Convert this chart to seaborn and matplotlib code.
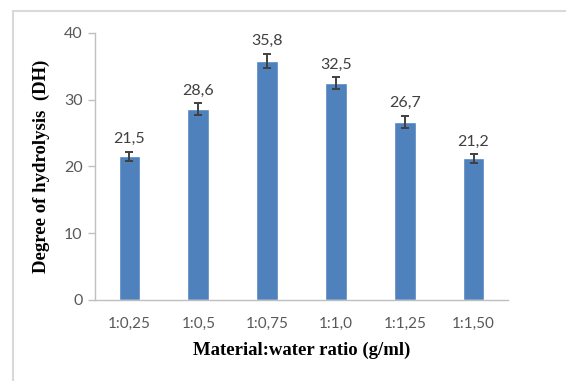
import matplotlib
matplotlib.use("Agg")
import matplotlib.pyplot as plt
import seaborn as sns
import pandas as pd
from matplotlib.lines import Line2D

categories = ["1:0,25", "1:0,5", "1:0,75", "1:1,0", "1:1,25", "1:1,50"]
values = [21.5, 28.6, 35.8, 32.5, 26.7, 21.2]
errors = [0.7, 0.9, 1.1, 0.9, 0.9, 0.65]
value_labels = ["21,5", "28,6", "35,8", "32,5", "26,7", "21,2"]
yticks = [0, 10, 20, 30, 40]

sns.set_theme(style="white")
df = pd.DataFrame({"ratio": categories, "dh": values})

fig = plt.figure(figsize=(5.66, 3.81), dpi=100)
ax = fig.add_axes([0.168, 0.2126, 0.7295, 0.7008])

sns.barplot(data=df, x="ratio", y="dh", color="#4F81BD", width=0.315,
            errorbar=None, ax=ax, saturation=1)
xs = range(len(categories))
ax.errorbar(list(xs), values, yerr=errors, fmt="none", ecolor="#404040",
            elinewidth=1.4, capsize=3, capthick=1.4, zorder=3)

for x, v, e, lab in zip(xs, values, errors, value_labels):
    ax.annotate(lab, (x, v + e), xytext=(0, 4), textcoords="offset points",
                ha="center", va="bottom", fontsize=11.5, color="#404040",
                family=["Lato", "DejaVu Sans"])

ax.set_ylim(0, 40)
ax.set_xlim(-0.5, len(categories) - 0.5)
ax.set_yticks(yticks)
ax.set_yticklabels([str(t) for t in yticks], family=["Lato", "DejaVu Sans"],
                   fontsize=11.5, color="#595959")
ax.set_xticks(list(xs))
ax.set_xticklabels(categories, family=["Lato", "DejaVu Sans"], fontsize=11,
                   color="#595959")
ax.tick_params(axis="y", length=5, width=1, color="#BFBFBF", left=True, pad=4)
ax.tick_params(axis="x", length=0, pad=12)

for s in ["top", "right"]:
    ax.spines[s].set_visible(False)
for s in ["left", "bottom"]:
    ax.spines[s].set_color("#BFBFBF")
    ax.spines[s].set_linewidth(1)

ax.set_xlabel("Material:water ratio (g/ml)", family="Liberation Serif",
              fontweight="bold", fontsize=13.5, color="black", labelpad=8)
ax.set_ylabel("Degree of hydrolysis  (DH)", family="Liberation Serif",
              fontweight="bold", fontsize=13.5, color="black", labelpad=10)

# outer frame
fig.add_artist(Line2D([13/566, 13/566], [0, 1 - 11/381], transform=fig.transFigure,
                      color="#D9D9D9", lw=1.5))
fig.add_artist(Line2D([13/566, 1], [1 - 11/381, 1 - 11/381], transform=fig.transFigure,
                      color="#D9D9D9", lw=1.5))

fig.savefig("out.png", dpi=100)
